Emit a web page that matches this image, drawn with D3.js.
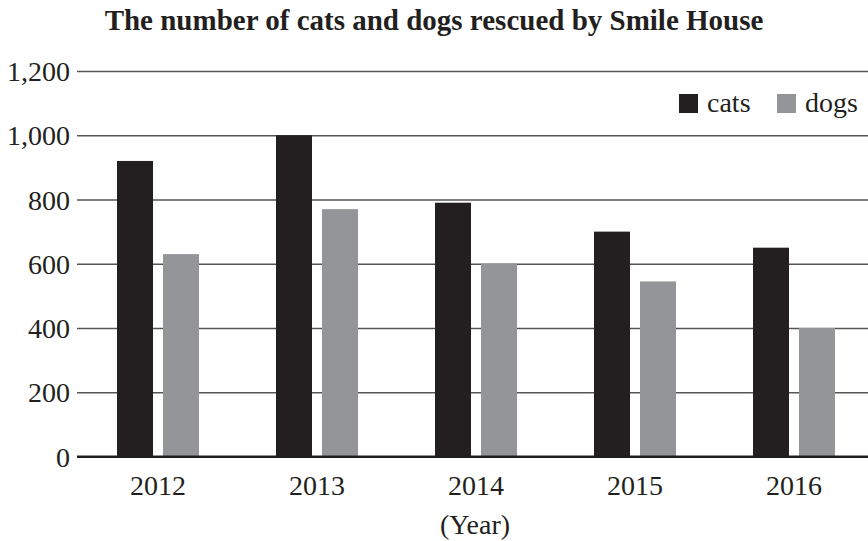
<!DOCTYPE html>
<html>
<head>
<meta charset="utf-8">
<script src="https://cdn.jsdelivr.net/npm/d3@7"></script>
<style>
  body { margin: 0; background: #fff; }
  text { font-family: "Liberation Serif", "Times New Roman", serif; fill: #231f20; }
</style>
</head>
<body>
<svg id="chart" width="868" height="541"></svg>
<script>
const years = ["2012", "2013", "2014", "2015", "2016"]
const series = ["cats", "dogs"]
const cats = [920, 1000, 790, 700, 650]
const dogs = [630, 770, 600, 545, 400]
const yTicks = [0, 200, 400, 600, 800, 1000, 1200]
const colors = { cats: "#231f20", dogs: "#939598" }

const svg = d3.select("#chart")
const plotLeft = 77, plotRight = 868, plotTop = 71, plotBottom = 456.5

const y = d3.scaleLinear().domain([0, 1200]).range([plotBottom, plotTop])

// bands are 159px wide, group of two bars 82px centred in each
const x = d3.scaleBand()
  .domain(years)
  .range([78.5, 873.5])
  .paddingInner(0.4843)
  .paddingOuter(0.24215)

const xSub = d3.scaleBand()
  .domain(series)
  .range([0, x.bandwidth()])
  .paddingInner(0.2174)

// gridlines + y labels
const yAxis = svg.append("g")
  .attr("transform", `translate(${plotLeft},0)`)
  .call(d3.axisLeft(y)
    .tickValues(yTicks)
    .tickSize(-(plotRight - plotLeft))
    .tickPadding(7)
    .tickFormat(d3.format(",")))

yAxis.select(".domain").remove()
yAxis.selectAll(".tick line")
  .attr("stroke", d => d === 0 ? "#231f20" : "#555")
  .attr("stroke-width", d => d === 0 ? 2 : 1.6)
yAxis.selectAll(".tick text")
  .attr("font-size", 28)
  .attr("font-family", "Liberation Serif")
  .attr("fill", "#231f20")
  .attr("dy", "0.34em")

// bars
const rows = years.map((yr, i) => ({ year: yr, cats: cats[i], dogs: dogs[i] }))

const groups = svg.selectAll(".year")
  .data(rows)
  .enter()
  .append("g")
  .attr("class", "year")
  .attr("transform", d => `translate(${x(d.year)},0)`)

groups.selectAll("rect")
  .data(d => series.map(s => ({ key: s, value: d[s] })))
  .enter()
  .append("rect")
  .attr("x", d => xSub(d.key))
  .attr("width", xSub.bandwidth())
  .attr("y", d => y(d.value))
  .attr("height", d => y(0) - y(d.value))
  .attr("fill", d => colors[d.key])

// redraw zero line on top of the bars
svg.append("line")
  .attr("x1", plotLeft).attr("x2", plotRight)
  .attr("y1", y(0)).attr("y2", y(0))
  .attr("stroke", "#231f20")
  .attr("stroke-width", 2)

// year labels
svg.selectAll(".yearLabel")
  .data(years)
  .enter()
  .append("text")
  .attr("class", "yearLabel")
  .attr("x", d => x(d) + x.bandwidth() / 2)
  .attr("y", 495)
  .attr("text-anchor", "middle")
  .attr("font-size", 28)
  .text(d => d)

svg.append("text")
  .attr("x", x("2014") + x.bandwidth() / 2 - 1)
  .attr("y", 534)
  .attr("text-anchor", "middle")
  .attr("font-size", 28)
  .text("(Year)")

// title
svg.append("text")
  .attr("x", 434)
  .attr("y", 30)
  .attr("text-anchor", "middle")
  .attr("font-size", 29)
  .attr("font-weight", "bold")
  .text("The number of cats and dogs rescued by Smile House")

// legend
const legend = svg.append("g")
const legendX = { cats: 679, dogs: 777 }

legend.selectAll("rect")
  .data(series)
  .enter()
  .append("rect")
  .attr("x", d => legendX[d])
  .attr("y", 94)
  .attr("width", 19)
  .attr("height", 19)
  .attr("fill", d => colors[d])

legend.selectAll("text")
  .data(series)
  .enter()
  .append("text")
  .attr("x", d => legendX[d] + 28)
  .attr("y", 112)
  .attr("font-size", 28)
  .text(d => d)
</script>
</body>
</html>
